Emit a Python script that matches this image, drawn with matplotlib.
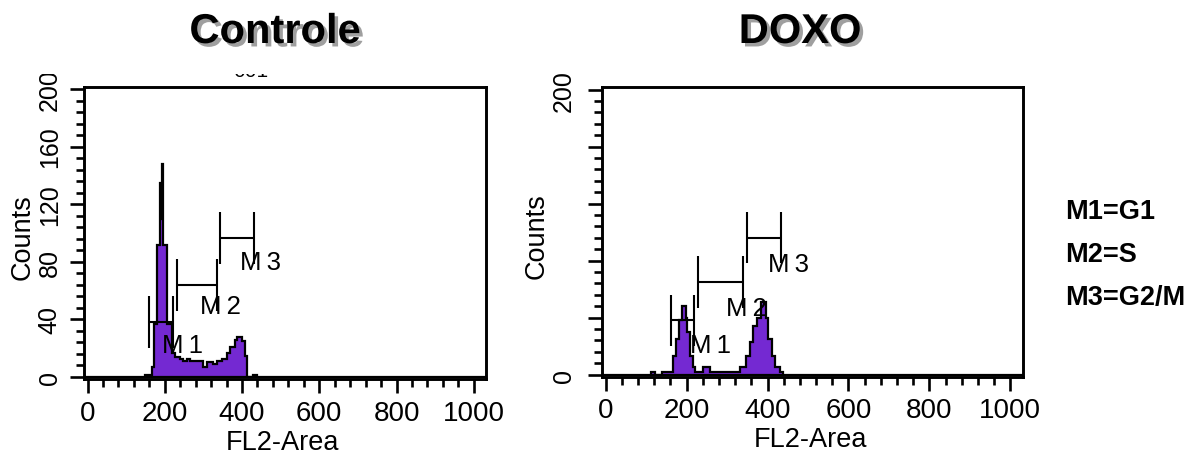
import matplotlib
matplotlib.use('Agg')
import matplotlib.pyplot as plt
from matplotlib.patches import Rectangle
import matplotlib.patheffects as pe
from matplotlib.ticker import MultipleLocator, FixedLocator, FuncFormatter

plt.rcParams['font.family'] = ['Liberation Sans', 'DejaVu Sans']

# ---------------- data ----------------
titles = ['Controle', 'DOXO']
legend_lines = ['M1=G1', 'M2=S', 'M3=G2/M']
x_label = 'FL2-Area'
y_label = 'Counts'
x_ticks = [0, 200, 400, 600, 800, 1000]
y_ticks_ctrl = [0, 40, 80, 120, 160, 200]
y_ticks_doxo = [0, 200]

# Controle histogram (FL2-Area channel edges, counts)
ctrl_edges = [148, 166, 172, 179, 188, 191, 193, 196, 207, 218, 226, 239, 248, 257,
              265, 278, 300, 310, 326, 336, 347, 360, 369, 382, 388, 399, 408, 412,
              428, 440]
ctrl_counts = [1.5, 7, 37, 92, 135, 110, 148, 92, 37, 17, 13.7, 12.5, 11.3, 12.5,
               11.3, 11.3, 7, 10.2, 9, 11.3, 12.5, 17, 20.6, 26, 27.5, 25, 14.8,
               0, 1.5]

# DOXO histogram
doxo_edges = [113, 122, 139, 167, 174, 182, 188, 199, 202, 209, 215, 221, 241, 258,
              332, 347, 357, 365, 373, 383, 396, 402, 410, 418, 431, 439]
doxo_counts = [2, 0, 2, 13, 25, 38, 48, 40, 30, 13, 5, 2, 5, 2,
               5, 13, 23, 34, 40, 51, 40, 25, 13, 5, 2]

# marker gates: (name, start, end, level)
ctrl_gates = [('M1', 159, 220, 38.4), ('M2', 231, 336, 64), ('M3', 343, 432, 96.3)]
doxo_gates = [('M1', 161, 219, 38), ('M2', 228, 340, 65), ('M3', 349, 433, 96)]
# gate label anchors (x, count)
ctrl_gate_labels = [(247, 22.2), (345, 49), (449, 80)]
doxo_gate_labels = [(260, 20.7), (347, 46.7), (451, 77.6)]
gate_half_height = 18

PURPLE = '#7429D2'

# ---------------- figure ----------------
W, H = 1202, 464
fig = plt.figure(figsize=(W / 100, H / 100), dpi=100)


def px_axes(l, r, t, b):
    return fig.add_axes([l / W, 1 - b / H, (r - l) / W, (b - t) / H])


ax1 = px_axes(84, 486, 88, 380)
ax2 = px_axes(602, 1023, 88, 377.5)


def draw_panel(ax, edges, counts, gates, labels, ylim, yticks, ytick_pad, ylabel_x):
    ax.stairs(counts, edges, baseline=0, fill=True, color=PURPLE, lw=0, zorder=2)
    ax.stairs(counts, edges, baseline=0, fill=False, color='black', lw=1.6, zorder=3)
    ax.axhline(0, color='black', lw=1.6, zorder=3)
    for (name, x1, x2, lvl), (lx, ly) in zip(gates, labels):
        ax.plot([x1, x2], [lvl, lvl], color='black', lw=1.5, zorder=4,
                solid_capstyle='butt')
        ax.vlines([x1, x2], lvl - gate_half_height, lvl + gate_half_height,
                  color='black', lw=1.5, zorder=4)
        ax.text(lx, ly, name[0] + '\u2009' + name[1], fontsize=18.5, ha='center',
                va='center', zorder=5, family=['Liberation Sans', 'DejaVu Sans'])
    ax.set_xlim(-9.1, 1031.5)
    ax.set_ylim(*ylim)
    ax.xaxis.set_major_locator(FixedLocator(x_ticks))
    ax.xaxis.set_minor_locator(MultipleLocator(40))
    ax.yaxis.set_major_locator(MultipleLocator(40))
    ax.yaxis.set_minor_locator(MultipleLocator(8))
    ax.yaxis.set_major_formatter(FuncFormatter(
        lambda v, p: f'{int(round(v))}' if int(round(v)) in yticks else ''))
    for s in ax.spines.values():
        s.set_linewidth(2.1)
    ax.tick_params(which='major', direction='out', length=10, width=1.9)
    ax.tick_params(which='minor', direction='out', length=5.5, width=1.9)
    ax.tick_params(axis='x', which='major', labelsize=20, pad=5)
    ax.tick_params(axis='y', which='major', labelsize=18, pad=ytick_pad,
                   labelrotation=90)
    for t in ax.get_yticklabels():
        t.set_va('center')
    ax.set_xlabel(x_label, fontsize=19.5)
    ax.xaxis.set_label_coords(0.495, -0.215)
    ax.xaxis.label.set_va('center')
    ax.set_ylabel(y_label, fontsize=19.5)
    ax.yaxis.set_label_coords(ylabel_x, 0.49)
    ax.yaxis.label.set_va('center')


draw_panel(ax1, ctrl_edges, ctrl_counts, ctrl_gates, ctrl_gate_labels,
           (-1.39, 201.4), y_ticks_ctrl, 6, -(84 - 22.5) / 402)
draw_panel(ax2, doxo_edges, doxo_counts, doxo_gates, doxo_gate_labels,
           (-1.4, 201.9), y_ticks_doxo, 9, -(602 - 537) / 421)

# clipped text remnant at top of left panel, then white band (image crop)
fig.text(251 / W, 1 - 77 / H, '001', fontsize=15, ha='center', va='baseline', zorder=1)
fig.add_artist(Rectangle((0, 1 - 75 / H), 1, 75 / H, transform=fig.transFigure,
                         facecolor='white', edgecolor='none', zorder=2))

shadow = [pe.SimplePatchShadow(offset=(2.5, -2.5), shadow_rgbFace='#777777', alpha=0.7),
          pe.Normal()]
fig.text(275 / W, 1 - 33 / H, titles[0], fontsize=30, fontweight='bold',
         ha='center', va='center', zorder=3, path_effects=shadow)
fig.text(800 / W, 1 - 33 / H, titles[1], fontsize=30, fontweight='bold',
         ha='center', va='center', zorder=3, path_effects=shadow)

for i, (line, yy) in enumerate(zip(legend_lines, [212, 255, 298])):
    fig.text(1065 / W, 1 - yy / H, line, fontsize=19.5, fontweight='bold',
             ha='left', va='center', zorder=3)

fig.savefig('out.png', dpi=100)
